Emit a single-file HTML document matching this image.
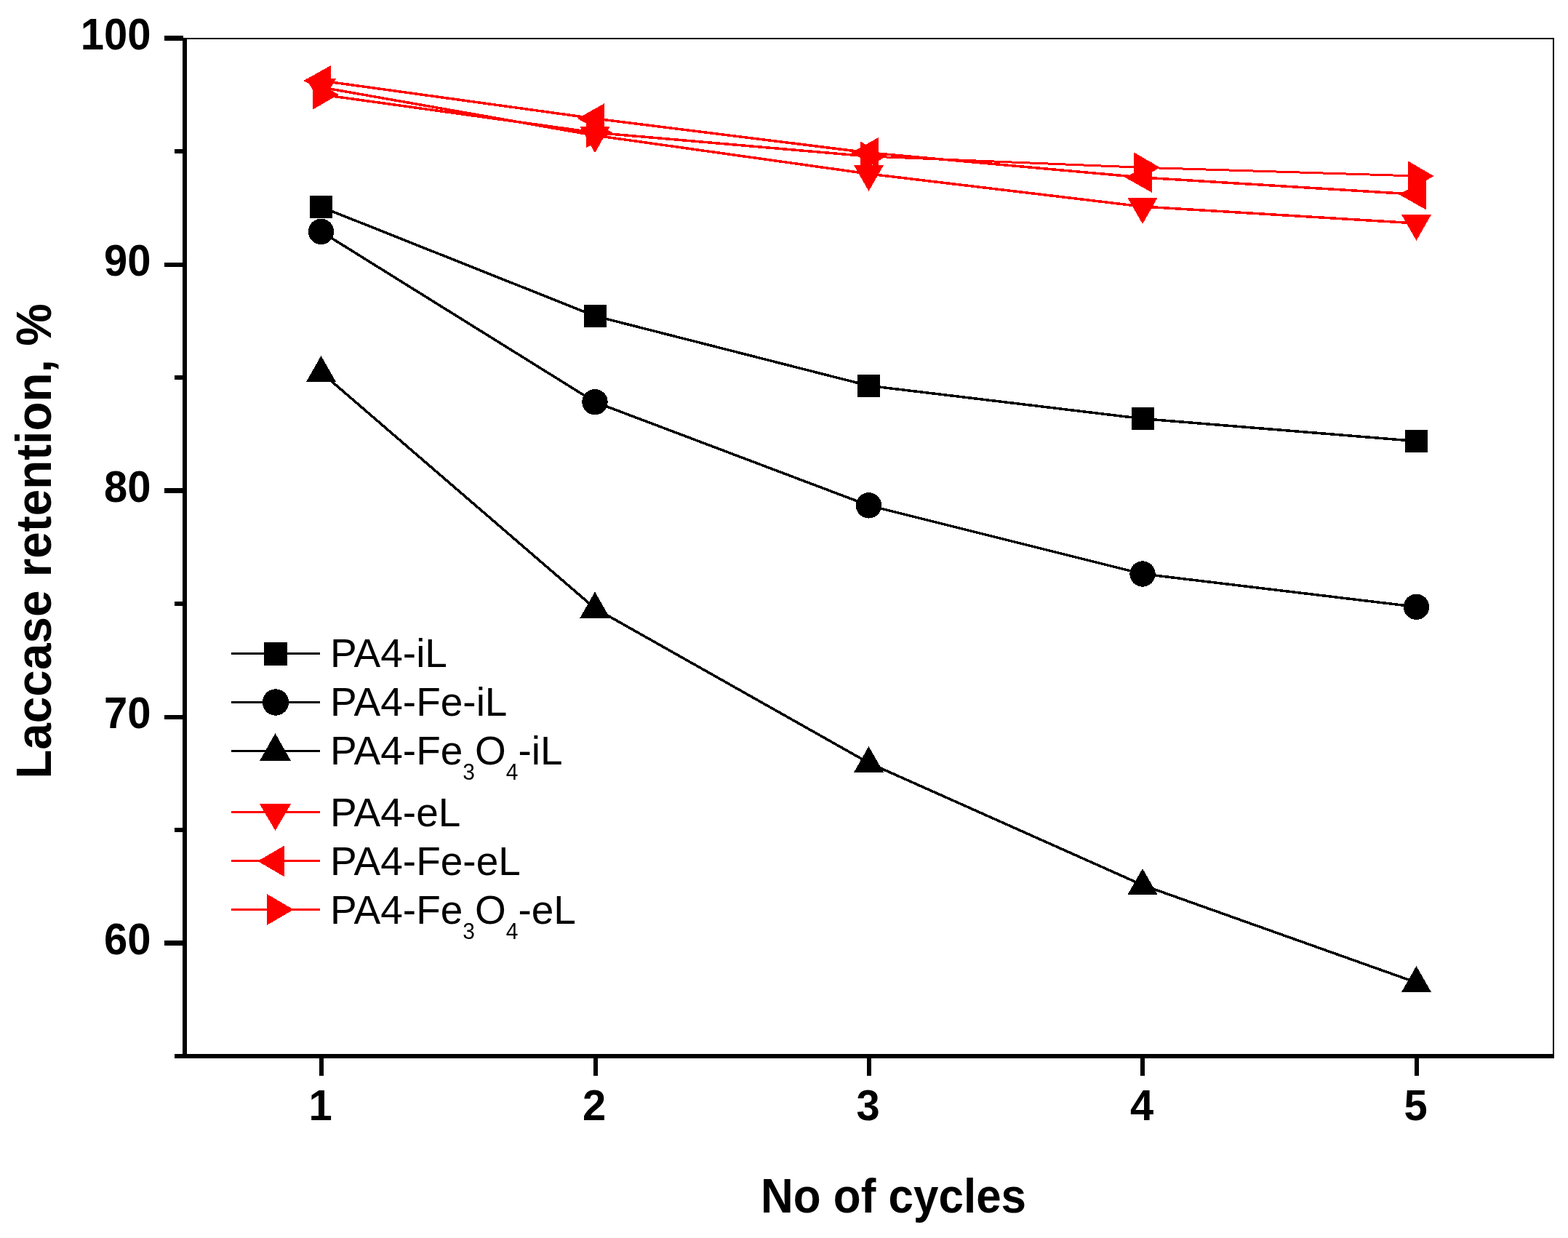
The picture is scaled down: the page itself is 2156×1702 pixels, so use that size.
<!DOCTYPE html>
<html><head><meta charset="utf-8"><title>Laccase retention chart</title>
<style>html,body{margin:0;padding:0;background:#fff;overflow:hidden;width:2156px;height:1702px;} svg{display:block;}</style>
</head><body>
<svg shape-rendering="crispEdges" width="2156" height="1702" viewBox="0 0 2156 1702">
<rect x="0" y="0" width="2156" height="1702" fill="#fff"/>
<rect x="251" y="52" width="1886" height="2" fill="#000"/>
<rect x="2135" y="52" width="2" height="1403" fill="#000"/>
<rect x="251" y="52" width="6" height="1403" fill="#000"/>
<rect x="240" y="1449" width="1897" height="6" fill="#000"/>
<rect x="226" y="49" width="26" height="7" fill="#000"/>
<rect x="226" y="361" width="26" height="6" fill="#000"/>
<rect x="226" y="671" width="26" height="7" fill="#000"/>
<rect x="226" y="983" width="26" height="6" fill="#000"/>
<rect x="226" y="1293" width="26" height="7" fill="#000"/>
<rect x="240" y="204.75" width="12" height="6.5" fill="#000"/>
<rect x="240" y="515.75" width="12" height="6.5" fill="#000"/>
<rect x="240" y="826.75" width="12" height="6.5" fill="#000"/>
<rect x="240" y="1137.75" width="12" height="6.5" fill="#000"/>
<rect x="439" y="1454" width="6" height="25" fill="#000"/>
<rect x="816" y="1454" width="6" height="25" fill="#000"/>
<rect x="1192" y="1454" width="6" height="25" fill="#000"/>
<rect x="1568" y="1454" width="6" height="25" fill="#000"/>
<rect x="1945" y="1454" width="6" height="25" fill="#000"/>
<text transform="translate(207.5,68.10) scale(1,1.05)" x="0" y="0" font-family="'Liberation Sans', Arial, sans-serif" font-weight="bold" font-size="58" text-anchor="end">100</text>
<text transform="translate(207.5,379.10) scale(1,1.05)" x="0" y="0" font-family="'Liberation Sans', Arial, sans-serif" font-weight="bold" font-size="58" text-anchor="end">90</text>
<text transform="translate(207.5,690.10) scale(1,1.05)" x="0" y="0" font-family="'Liberation Sans', Arial, sans-serif" font-weight="bold" font-size="58" text-anchor="end">80</text>
<text transform="translate(207.5,1001.10) scale(1,1.05)" x="0" y="0" font-family="'Liberation Sans', Arial, sans-serif" font-weight="bold" font-size="58" text-anchor="end">70</text>
<text transform="translate(207.5,1312.10) scale(1,1.05)" x="0" y="0" font-family="'Liberation Sans', Arial, sans-serif" font-weight="bold" font-size="58" text-anchor="end">60</text>
<text transform="translate(440.50,1540.3) scale(1,1.035)" x="0" y="0" font-family="'Liberation Sans', Arial, sans-serif" font-weight="bold" font-size="58" text-anchor="middle">1</text>
<text transform="translate(817.00,1540.3) scale(1,1.035)" x="0" y="0" font-family="'Liberation Sans', Arial, sans-serif" font-weight="bold" font-size="58" text-anchor="middle">2</text>
<text transform="translate(1193.50,1540.3) scale(1,1.035)" x="0" y="0" font-family="'Liberation Sans', Arial, sans-serif" font-weight="bold" font-size="58" text-anchor="middle">3</text>
<text transform="translate(1570.00,1540.3) scale(1,1.035)" x="0" y="0" font-family="'Liberation Sans', Arial, sans-serif" font-weight="bold" font-size="58" text-anchor="middle">4</text>
<text transform="translate(1946.50,1540.3) scale(1,1.035)" x="0" y="0" font-family="'Liberation Sans', Arial, sans-serif" font-weight="bold" font-size="58" text-anchor="middle">5</text>
<text transform="translate(1228.5,1667) scale(1,1.07)" x="0" y="0" font-family="'Liberation Sans', Arial, sans-serif" font-weight="bold" font-size="62" text-anchor="middle">No of cycles</text>
<text transform="translate(69.9,744.1) rotate(-90) scale(1,1.055)" x="0" y="0" font-family="'Liberation Sans', Arial, sans-serif" font-weight="bold" font-size="65.7" text-anchor="middle">Laccase retention, %</text>
<line x1="441.50" y1="284.50" x2="818.00" y2="434.40" stroke="#000000" stroke-width="3.5"/>
<line x1="818.00" y1="434.40" x2="1194.50" y2="530.30" stroke="#000000" stroke-width="3.5"/>
<line x1="1194.50" y1="530.30" x2="1571.00" y2="575.60" stroke="#000000" stroke-width="3.5"/>
<line x1="1571.00" y1="575.60" x2="1947.50" y2="606.50" stroke="#000000" stroke-width="3.5"/>
<rect x="426.00" y="269.00" width="31.00" height="31.00" fill="#000000"/>
<rect x="802.50" y="418.90" width="31.00" height="31.00" fill="#000000"/>
<rect x="1179.00" y="514.80" width="31.00" height="31.00" fill="#000000"/>
<rect x="1555.50" y="560.10" width="31.00" height="31.00" fill="#000000"/>
<rect x="1932.00" y="591.00" width="31.00" height="31.00" fill="#000000"/>
<line x1="441.50" y1="318.40" x2="818.00" y2="552.70" stroke="#000000" stroke-width="3.5"/>
<line x1="818.00" y1="552.70" x2="1194.50" y2="694.90" stroke="#000000" stroke-width="3.5"/>
<line x1="1194.50" y1="694.90" x2="1571.00" y2="789.00" stroke="#000000" stroke-width="3.5"/>
<line x1="1571.00" y1="789.00" x2="1947.50" y2="834.30" stroke="#000000" stroke-width="3.5"/>
<circle cx="441.50" cy="318.40" r="17.70" fill="#000000"/>
<circle cx="818.00" cy="552.70" r="17.70" fill="#000000"/>
<circle cx="1194.50" cy="694.90" r="17.70" fill="#000000"/>
<circle cx="1571.00" cy="789.00" r="17.70" fill="#000000"/>
<circle cx="1947.50" cy="834.30" r="17.70" fill="#000000"/>
<line x1="441.50" y1="511.80" x2="818.00" y2="836.30" stroke="#000000" stroke-width="3.5"/>
<line x1="818.00" y1="836.30" x2="1194.50" y2="1048.80" stroke="#000000" stroke-width="3.5"/>
<line x1="1194.50" y1="1048.80" x2="1571.00" y2="1216.80" stroke="#000000" stroke-width="3.5"/>
<line x1="1571.00" y1="1216.80" x2="1947.50" y2="1350.80" stroke="#000000" stroke-width="3.5"/>
<polygon points="441.50,489.00 462.00,525.00 421.00,525.00" fill="#000000"/>
<polygon points="818.00,813.50 838.50,849.50 797.50,849.50" fill="#000000"/>
<polygon points="1194.50,1026.00 1215.00,1062.00 1174.00,1062.00" fill="#000000"/>
<polygon points="1571.00,1194.00 1591.50,1230.00 1550.50,1230.00" fill="#000000"/>
<polygon points="1947.50,1328.00 1968.00,1364.00 1927.00,1364.00" fill="#000000"/>
<line x1="441.50" y1="120.00" x2="818.00" y2="186.20" stroke="#ff0000" stroke-width="3.5"/>
<line x1="818.00" y1="186.20" x2="1194.50" y2="239.00" stroke="#ff0000" stroke-width="3.5"/>
<line x1="1194.50" y1="239.00" x2="1571.00" y2="284.00" stroke="#ff0000" stroke-width="3.5"/>
<line x1="1571.00" y1="284.00" x2="1947.50" y2="307.00" stroke="#ff0000" stroke-width="3.5"/>
<polygon points="441.50,144.00 462.00,108.00 421.00,108.00" fill="#ff0000"/>
<polygon points="818.00,210.20 838.50,174.20 797.50,174.20" fill="#ff0000"/>
<polygon points="1194.50,263.00 1215.00,227.00 1174.00,227.00" fill="#ff0000"/>
<polygon points="1571.00,308.00 1591.50,272.00 1550.50,272.00" fill="#ff0000"/>
<polygon points="1947.50,331.00 1968.00,295.00 1927.00,295.00" fill="#ff0000"/>
<line x1="441.50" y1="111.00" x2="818.00" y2="163.00" stroke="#ff0000" stroke-width="3.5"/>
<line x1="818.00" y1="163.00" x2="1194.50" y2="210.00" stroke="#ff0000" stroke-width="3.5"/>
<line x1="1194.50" y1="210.00" x2="1571.00" y2="244.00" stroke="#ff0000" stroke-width="3.5"/>
<line x1="1571.00" y1="244.00" x2="1947.50" y2="267.30" stroke="#ff0000" stroke-width="3.5"/>
<polygon points="417.50,111.00 454.80,90.00 454.80,132.00" fill="#ff0000"/>
<polygon points="794.00,163.00 831.30,142.00 831.30,184.00" fill="#ff0000"/>
<polygon points="1170.50,210.00 1207.80,189.00 1207.80,231.00" fill="#ff0000"/>
<polygon points="1547.00,244.00 1584.30,223.00 1584.30,265.00" fill="#ff0000"/>
<polygon points="1923.50,267.30 1960.80,246.30 1960.80,288.30" fill="#ff0000"/>
<line x1="441.50" y1="130.00" x2="818.00" y2="182.30" stroke="#ff0000" stroke-width="3.5"/>
<line x1="818.00" y1="182.30" x2="1194.50" y2="215.00" stroke="#ff0000" stroke-width="3.5"/>
<line x1="1194.50" y1="215.00" x2="1571.00" y2="230.30" stroke="#ff0000" stroke-width="3.0"/>
<line x1="1571.00" y1="230.30" x2="1947.50" y2="242.00" stroke="#ff0000" stroke-width="3.0"/>
<polygon points="465.50,130.00 429.50,109.00 429.50,151.00" fill="#ff0000"/>
<polygon points="842.00,182.30 806.00,161.30 806.00,203.30" fill="#ff0000"/>
<polygon points="1218.50,215.00 1182.50,194.00 1182.50,236.00" fill="#ff0000"/>
<polygon points="1595.00,230.30 1559.00,209.30 1559.00,251.30" fill="#ff0000"/>
<polygon points="1971.50,242.00 1935.50,221.00 1935.50,263.00" fill="#ff0000"/>
<rect x="318" y="896.80" width="122" height="3" fill="#000000"/>
<rect x="362.74" y="883.03" width="31.93" height="31.93" fill="#000000"/>
<text transform="translate(454,916.80) scale(1,1.026)" x="0" y="0" font-family="'Liberation Sans', Arial, sans-serif" font-size="55">PA4-iL</text>
<rect x="318" y="964.00" width="122" height="3" fill="#000000"/>
<circle cx="379.00" cy="965.50" r="18.23" fill="#000000"/>
<text transform="translate(454,984.00) scale(1,1.026)" x="0" y="0" font-family="'Liberation Sans', Arial, sans-serif" font-size="55">PA4-Fe-iL</text>
<rect x="318" y="1030.50" width="122" height="3" fill="#000000"/>
<polygon points="378.50,1008.10 399.70,1045.60 357.30,1045.60" fill="#000000"/>
<text transform="translate(454,1051.00) scale(1,1.026)" x="0" y="0" font-family="'Liberation Sans', Arial, sans-serif" font-size="55">PA4-Fe<tspan font-size="30" dy="20.7">3</tspan><tspan dy="-20.7">O</tspan><tspan font-size="30" dy="20.7">4</tspan><tspan dy="-20.7">-iL</tspan></text>
<rect x="318" y="1115.10" width="122" height="3" fill="#ff0000"/>
<polygon points="378.50,1141.90 400.20,1105.20 356.80,1105.20" fill="#ff0000"/>
<text transform="translate(454,1136.00) scale(1,1.026)" x="0" y="0" font-family="'Liberation Sans', Arial, sans-serif" font-size="55">PA4-eL</text>
<rect x="318" y="1182.40" width="122" height="3" fill="#ff0000"/>
<polygon points="354.28,1183.90 391.36,1162.27 391.36,1205.53" fill="#ff0000"/>
<text transform="translate(454,1203.00) scale(1,1.026)" x="0" y="0" font-family="'Liberation Sans', Arial, sans-serif" font-size="55">PA4-Fe-eL</text>
<rect x="318" y="1249.00" width="122" height="3" fill="#ff0000"/>
<polygon points="403.72,1250.50 366.64,1228.87 366.64,1272.13" fill="#ff0000"/>
<text transform="translate(454,1270.20) scale(1,1.026)" x="0" y="0" font-family="'Liberation Sans', Arial, sans-serif" font-size="55">PA4-Fe<tspan font-size="30" dy="20.7">3</tspan><tspan dy="-20.7">O</tspan><tspan font-size="30" dy="20.7">4</tspan><tspan dy="-20.7">-eL</tspan></text>
</svg>
</body></html>
